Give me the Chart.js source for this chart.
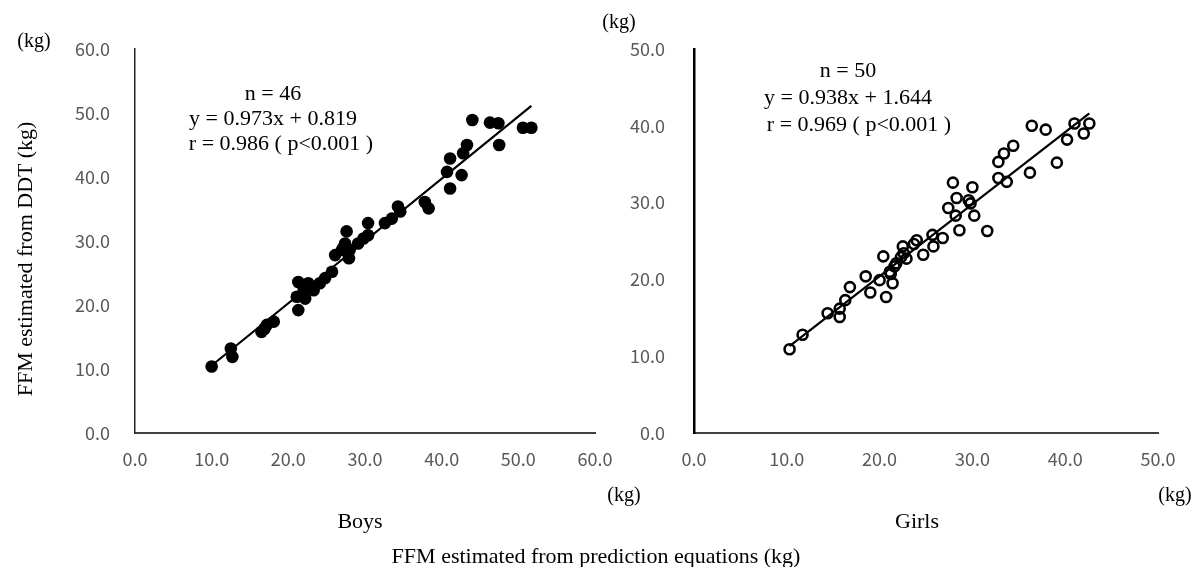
<!DOCTYPE html>
<html>
<head>
<meta charset="utf-8">
<script src="https://cdn.jsdelivr.net/npm/chart.js@4/dist/chart.umd.min.js"></script>
<style>
  html, body { margin: 0; padding: 0; background: #fff; }
  #wrap { position: relative; width: 1193px; height: 567px; overflow: hidden; background: #fff; }
  canvas { position: absolute; top: 0; }
  .t { position: absolute; font-family: "Liberation Serif", "Times New Roman", serif; color: #000; white-space: nowrap; line-height: 1; }
  .c { transform: translate(-50%, -50%); }
</style>
</head>
<body>
<div id="wrap">
  <canvas id="boys" width="640" height="567" style="left:0px"></canvas>
  <canvas id="girls" width="593" height="567" style="left:600px"></canvas>

  <div class="t c" style="left:34px; top:40px; font-size:20px;">(kg)</div>
  <div class="t c" style="left:619px; top:21px; font-size:20px;">(kg)</div>
  <div class="t c" style="left:624px; top:494px; font-size:20px;">(kg)</div>
  <div class="t c" style="left:1175px; top:494px; font-size:20px;">(kg)</div>

  <div class="t c" style="left:273px; top:93px; font-size:22px;">n = 46</div>
  <div class="t c" style="left:273px; top:118px; font-size:22px;">y = 0.973x + 0.819</div>
  <div class="t c" style="left:281px; top:143px; font-size:22px;">r = 0.986 ( p&lt;0.001 )</div>

  <div class="t c" style="left:848px; top:70px; font-size:22px;">n = 50</div>
  <div class="t c" style="left:848px; top:97px; font-size:22px;">y = 0.938x + 1.644</div>
  <div class="t c" style="left:859px; top:124px; font-size:22px;">r = 0.969 ( p&lt;0.001 )</div>

  <div class="t c" style="left:360px; top:521px; font-size:22px;">Boys</div>
  <div class="t c" style="left:917px; top:521px; font-size:22px;">Girls</div>
  <div class="t c" style="left:596px; top:556px; font-size:22px;">FFM estimated from prediction equations (kg)</div>
  <div class="t c" style="left:25px; top:259px; font-size:22px; transform: translate(-50%, -50%) rotate(-90deg);">FFM estimated from DDT (kg)</div>
</div>

<script>
// ---- Data ----
const boysX = [10.0, 12.5, 12.7, 16.5, 16.9, 17.2, 18.1, 21.1, 21.3, 21.3, 22.0, 22.2, 22.6, 23.3, 24.1, 24.8, 25.7, 26.1, 27.0, 27.2, 27.4, 27.6, 27.9, 28.0, 29.1, 29.8, 30.4, 30.4, 32.6, 33.5, 34.3, 34.6, 37.8, 38.3, 40.7, 41.1, 41.1, 42.6, 42.8, 43.3, 44.0, 46.3, 47.4, 47.5, 50.6, 51.7];
const boysY = [10.4, 13.2, 11.9, 15.8, 16.3, 16.9, 17.4, 21.3, 23.6, 19.2, 22.6, 21.0, 23.4, 22.3, 23.4, 24.2, 25.2, 27.8, 28.6, 29.0, 29.6, 31.5, 27.3, 28.6, 29.6, 30.4, 32.8, 30.9, 32.8, 33.5, 35.4, 34.6, 36.1, 35.1, 40.8, 38.2, 42.9, 40.3, 43.7, 45.0, 48.9, 48.5, 48.4, 45.0, 47.7, 47.7];

const girlsX = [10.3, 11.7, 14.4, 15.7, 15.7, 16.3, 16.8, 18.5, 19.0, 20.0, 20.4, 20.7, 21.1, 21.2, 21.4, 21.6, 21.8, 22.3, 22.5, 22.6, 22.9, 23.7, 24.0, 24.7, 25.7, 25.8, 26.8, 27.4, 27.9, 28.2, 28.3, 28.6, 29.6, 29.8, 30.0, 30.2, 31.6, 32.8, 32.8, 33.4, 33.7, 34.4, 36.2, 36.4, 37.9, 39.1, 40.2, 41.0, 42.0, 42.6];
const girlsY = [10.9, 12.8, 15.6, 15.1, 16.2, 17.3, 19.0, 20.4, 18.3, 19.9, 23.0, 17.7, 21.0, 20.7, 19.5, 21.7, 22.1, 22.9, 24.3, 23.4, 22.7, 24.6, 25.1, 23.2, 25.8, 24.3, 25.4, 29.3, 32.6, 28.3, 30.6, 26.4, 30.3, 29.9, 32.0, 28.3, 26.3, 33.2, 35.3, 36.4, 32.7, 37.4, 33.9, 40.0, 39.5, 35.2, 38.2, 40.3, 39.0, 40.3];

// Regression lines (published equations) and their x extent
const boysFit = [0.973, 0.819];
const boysFitRange = [10.0, 51.7];
const girlsFit = [0.938, 1.644];
const girlsFitRange = [10.3, 42.6];

// Tick labels
const boysXTicks = ['0.0', '10.0', '20.0', '30.0', '40.0', '50.0', '60.0'];
const boysYTicks = ['0.0', '10.0', '20.0', '30.0', '40.0', '50.0', '60.0'];
const girlsXTicks = ['0.0', '10.0', '20.0', '30.0', '40.0', '50.0'];
const girlsYTicks = ['0.0', '10.0', '20.0', '30.0', '40.0', '50.0'];

// ---- Build charts ----
const pts = (xs, ys) => xs.map((x, i) => ({ x: x, y: ys[i] }));
const fitPts = (fit, range) => range.map(x => ({ x: x, y: fit[0] * x + fit[1] }));
const tickFont = { family: '"Noto Sans CJK JP", "Noto Sans", sans-serif', size: 18 };

function makeChart(id, opts) {
  return new Chart(document.getElementById(id), {
    type: 'scatter',
    data: {
      datasets: [
        {
          data: fitPts(opts.fit, opts.fitRange),
          showLine: true,
          borderColor: '#000',
          borderWidth: 2.2,
          pointRadius: 0,
          fill: false,
          order: 0
        },
        Object.assign({ data: pts(opts.xs, opts.ys), order: 1, pointStyle: 'circle' }, opts.pointStyle)
      ]
    },
    options: {
      responsive: false,
      animation: false,
      devicePixelRatio: 1,
      layout: { padding: { left: 0, top: 49, right: opts.padRight, bottom: 84 } },
      plugins: { legend: { display: false }, tooltip: { enabled: false } },
      scales: {
        x: {
          type: 'linear',
          min: 0, max: opts.xMax,
          afterFit: s => { s.height = 50; },
          afterBuildTicks: s => { s.ticks = opts.xTicks.map((_, i) => ({ value: i * 10 })); },
          grid: { display: false, drawTicks: false },
          border: { display: true, color: '#404040', width: 2 },
          ticks: { padding: 15, color: '#595959', font: tickFont, maxRotation: 0, autoSkip: false,
                   callback: (v, i) => opts.xTicks[i] }
        },
        y: {
          type: 'linear',
          min: 0, max: opts.yMax,
          afterFit: s => { s.width = opts.yWidth; },
          afterBuildTicks: s => { s.ticks = opts.yTicks.map((_, i) => ({ value: i * 10 })); },
          grid: { display: false, drawTicks: false },
          border: { display: true, color: opts.yAxisColor, width: opts.yAxisWidth },
          ticks: { padding: opts.yPad, color: '#595959', font: tickFont, autoSkip: false,
                   callback: (v, i) => opts.yTicks[i] }
        }
      }
    }
  });
}

makeChart('boys', {
  xs: boysX, ys: boysY, fit: boysFit, fitRange: boysFitRange,
  xTicks: boysXTicks, yTicks: boysYTicks, xMax: 60, yMax: 60,
  padRight: 45, yWidth: 135, yPad: 25, yAxisColor: '#262626', yAxisWidth: 1.5,
  pointStyle: { backgroundColor: '#000', borderColor: '#000', borderWidth: 0, pointRadius: 6.3 }
});

makeChart('girls', {
  xs: girlsX, ys: girlsY, fit: girlsFit, fitRange: girlsFitRange,
  xTicks: girlsXTicks, yTicks: girlsYTicks, xMax: 50, yMax: 50,
  padRight: 35, yWidth: 94, yPad: 29, yAxisColor: '#000', yAxisWidth: 2.5,
  pointStyle: { backgroundColor: 'rgba(0,0,0,0)', borderColor: '#000', borderWidth: 2.6, pointRadius: 5 }
});
</script>
</body>
</html>
